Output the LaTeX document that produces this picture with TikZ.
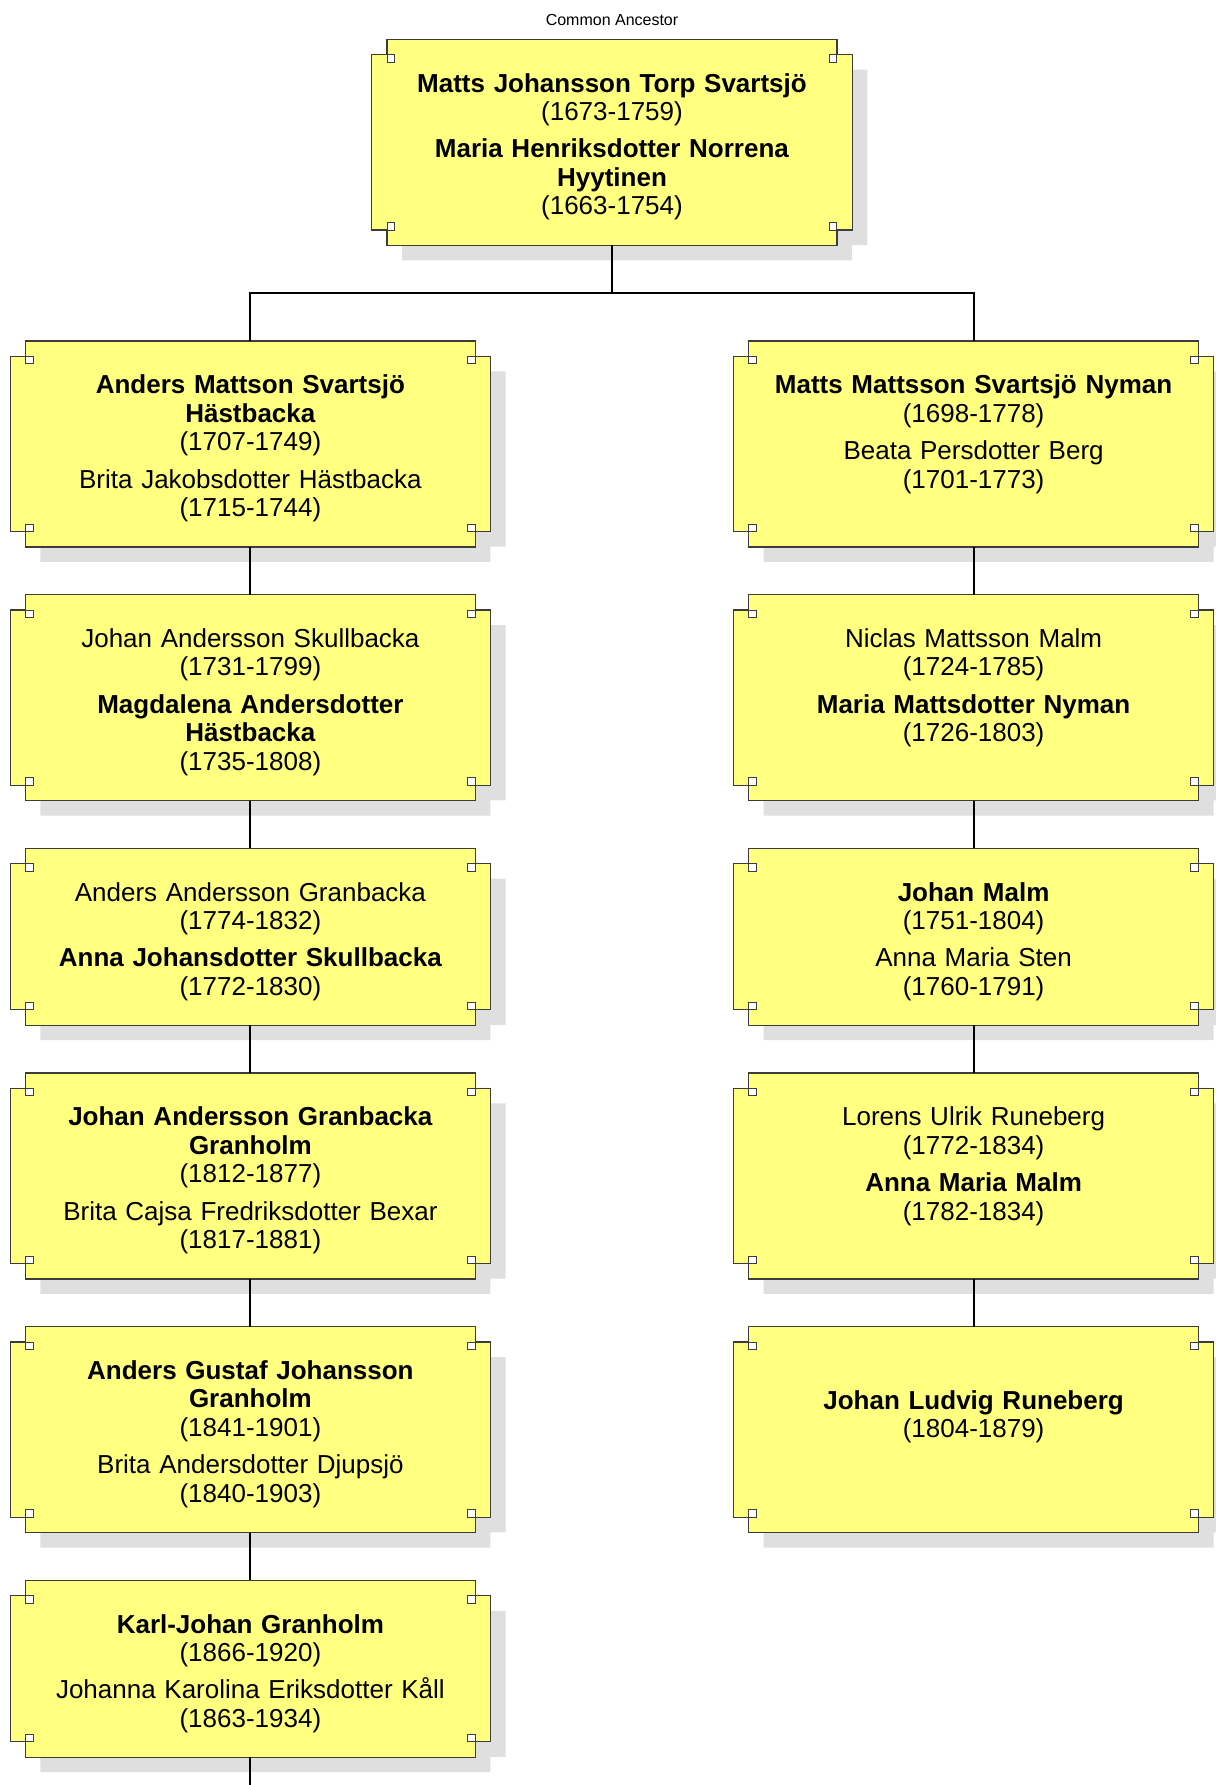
\documentclass[tikz,border=0pt]{standalone}
\usepackage{fontspec}
\setmainfont{Liberation Sans}
\usepackage{tikz}
\usetikzlibrary{calc,positioning,backgrounds}

\definecolor{boxfill}{HTML}{FFFF80}
\definecolor{shadowgray}{HTML}{DFDFDF}
\definecolor{rim}{HTML}{3C3C3C}
\newcommand\fs{\fontsize{19.5pt}{21.4pt}\selectfont}
\newcommand\gap{\\[6.6pt]}

\tikzset{
  cross/.style 2 args={insert path={
    ($(#1.north west)+#2$) -- ($(#1.north east)+#2$) -- ++(0,11.5) -- ++(11.5,0)
    -- ($(#1.south east)+#2+(11.5,-11.5)$) -- ++(-11.5,0) -- ($(#1.south east)+#2$)
    -- ($(#1.south west)+#2$) -- ++(0,-11.5) -- ++(-11.5,0)
    -- ($(#1.north west)+#2+(-11.5,11.5)$) -- ++(11.5,0) -- cycle}}
}

% shadow, tabs and corner squares of a person box
\newcommand\persondeco[1]{%
  \begin{pgfonlayer}{background}
    \fill[shadowgray, cross={#1}{(11.25,11.25)}];
    \filldraw[fill=boxfill, draw=rim, line width=0.9pt, cross={#1}{(0,0)}];
    \filldraw[sqr] (#1.north west) ++(0,11.5) rectangle ++(5.7,5.7);
    \filldraw[sqr] (#1.north east) ++(0,11.5) rectangle ++(-5.7,5.7);
    \filldraw[sqr] (#1.south west) ++(0,-11.5) rectangle ++(5.7,-5.7);
    \filldraw[sqr] (#1.south east) ++(0,-11.5) rectangle ++(-5.7,-5.7);
  \end{pgfonlayer}}

\begin{document}
\begin{tikzpicture}[x=1pt,y=-1pt,node distance=35.8pt,
                    conn/.style={draw=black,line width=1.5pt}]
  \tikzstyle{pbox}=[rectangle,minimum width=337pt,minimum height=154.1pt,inner sep=0pt]
  \tikzstyle{short}=[minimum height=132.2pt]
  \tikzstyle{ptext}=[align=center,text width=330pt,inner sep=0pt,font=\fs,anchor=base,yshift=-39.5pt]
  \tikzstyle{sqr}=[fill=white,draw=rim,line width=0.7pt]

  \useasboundingbox (0,0) rectangle (911.25,1338.75);

  \node[font=\fontsize{12pt}{14pt}\selectfont,anchor=base] (caption) at (459,18.75) {Common Ancestor};

  \node[pbox,anchor=north,label={[ptext]north:{\textbf{Matts Johansson Torp Svartsjö}\\(1673-1759)\gap
    \textbf{Maria Henriksdotter Norrena}\\\textbf{Hyytinen}\\(1663-1754)}}] (anc) at (459,29.5) {};

  % left line
  \node[pbox,anchor=north,label={[ptext]north:{\textbf{Anders Mattson Svartsjö}\\\textbf{Hästbacka}\\(1707-1749)\gap
    Brita Jakobsdotter Hästbacka\\(1715-1744)}}] (l1) at (187.8,255.7) {};
  \node[pbox,below=of l1,label={[ptext]north:{Johan Andersson Skullbacka\\(1731-1799)\gap
    \textbf{Magdalena Andersdotter}\\\textbf{Hästbacka}\\(1735-1808)}}] (l2) {};
  \node[pbox,short,below=of l2,label={[ptext]north:{Anders Andersson Granbacka\\(1774-1832)\gap
    \textbf{Anna Johansdotter Skullbacka}\\(1772-1830)}}] (l3) {};
  \node[pbox,below=of l3,label={[ptext]north:{\textbf{Johan Andersson Granbacka}\\\textbf{Granholm}\\(1812-1877)\gap
    Brita Cajsa Fredriksdotter Bexar\\(1817-1881)}}] (l4) {};
  \node[pbox,below=of l4,label={[ptext]north:{\textbf{Anders Gustaf Johansson}\\\textbf{Granholm}\\(1841-1901)\gap
    Brita Andersdotter Djupsjö\\(1840-1903)}}] (l5) {};
  \node[pbox,short,below=of l5,label={[ptext]north:{\textbf{Karl-Johan Granholm}\\(1866-1920)\gap
    Johanna Karolina Eriksdotter Kåll\\(1863-1934)}}] (l6) {};
  \coordinate (more) at (187.8,1338.75);

  % right line
  \node[pbox,anchor=north,label={[ptext]north:{\textbf{Matts Mattsson Svartsjö Nyman}\\(1698-1778)\gap
    Beata Persdotter Berg\\(1701-1773)}}] (r1) at (730.2,255.7) {};
  \node[pbox,below=of r1,label={[ptext]north:{Niclas Mattsson Malm\\(1724-1785)\gap
    \textbf{Maria Mattsdotter Nyman}\\(1726-1803)}}] (r2) {};
  \node[pbox,short,below=of r2,label={[ptext]north:{\textbf{Johan Malm}\\(1751-1804)\gap
    Anna Maria Sten\\(1760-1791)}}] (r3) {};
  \node[pbox,below=of r3,label={[ptext]north:{Lorens Ulrik Runeberg\\(1772-1834)\gap
    \textbf{Anna Maria Malm}\\(1782-1834)}}] (r4) {};
  \node[pbox,below=of r4,label={[ptext,yshift=-22.5pt]north:{\textbf{Johan Ludvig Runeberg}\\(1804-1879)}}] (r5) {};

  \foreach \n in {anc,l1,l2,l3,l4,l5,l6,r1,r2,r3,r4,r5}
    {\persondeco{\n}}

  \draw[conn] (anc.south) -- ++(0,35.5) -| (l1.north);
  \draw[conn] (anc.south) -- ++(0,35.5) -| (r1.north);
  \draw[conn] (l1) -- (l2);
  \draw[conn] (l2) -- (l3);
  \draw[conn] (l3) -- (l4);
  \draw[conn] (l4) -- (l5);
  \draw[conn] (l5) -- (l6);
  \draw[conn] (l6) -- (more);
  \draw[conn] (r1) -- (r2);
  \draw[conn] (r2) -- (r3);
  \draw[conn] (r3) -- (r4);
  \draw[conn] (r4) -- (r5);

\end{tikzpicture}
\end{document}
